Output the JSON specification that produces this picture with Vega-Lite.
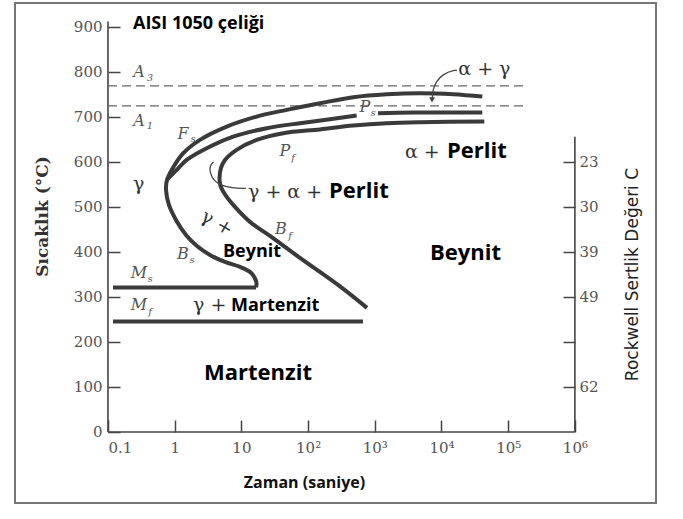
{
  "$schema": "https://vega.github.io/schema/vega-lite/v6.json",
  "width": 641,
  "height": 500,
  "autosize": {"type": "none"},
  "padding": {"left": 15, "top": 3, "right": 27, "bottom": 16},
  "background": "white",
  "config": {"view": {"stroke": "#767676", "strokeWidth": 2}, "axis": {"grid": false}},
  "datasets": {
    "axislines": [
      {"t": 0.1, "t2": 0.1, "T": 0, "T2": 912},
      {"t": 0.1, "t2": 1000000, "T": 0, "T2": 0},
      {"t": 1000000, "t2": 1000000, "T": 0, "T2": 656}
    ],
    "dashes": [
      {"t": 0.1, "t2": 191400, "T": 768.9},
      {"t": 0.1, "t2": 191400, "T": 724.4}
    ],
    "hlines": [
      {"t": 0.1189, "t2": 16.6, "T": 321.1},
      {"t": 0.1189, "t2": 665, "T": 245.6}
    ],
    "curves": [
      {"seg": "a", "i": 1, "t": 16.6, "T": 321.1},
      {"seg": "a", "i": 2, "t": 16.84, "T": 331.1},
      {"seg": "a", "i": 3, "t": 15.72, "T": 343.3},
      {"seg": "a", "i": 4, "t": 13.45, "T": 355.6},
      {"seg": "a", "i": 5, "t": 9.53, "T": 366.7},
      {"seg": "a", "i": 6, "t": 5.68, "T": 377.8},
      {"seg": "a", "i": 7, "t": 3.38, "T": 393.3},
      {"seg": "a", "i": 8, "t": 2.16, "T": 413.3},
      {"seg": "a", "i": 9, "t": 1.477, "T": 437.8},
      {"seg": "a", "i": 10, "t": 1.046, "T": 471.1},
      {"seg": "a", "i": 11, "t": 0.821, "T": 504.4},
      {"seg": "a", "i": 12, "t": 0.741, "T": 537.8},
      {"seg": "a", "i": 13, "t": 0.767, "T": 560},
      {"seg": "a", "i": 14, "t": 0.902, "T": 582.2},
      {"seg": "a", "i": 15, "t": 1.346, "T": 619.3},
      {"seg": "a", "i": 16, "t": 2.395, "T": 648.9},
      {"seg": "a", "i": 17, "t": 6.02, "T": 678.4},
      {"seg": "a", "i": 18, "t": 16.96, "T": 700.7},
      {"seg": "a", "i": 19, "t": 47.8, "T": 715.6},
      {"seg": "a", "i": 20, "t": 150.8, "T": 730.4},
      {"seg": "a", "i": 21, "t": 476, "T": 743.8},
      {"seg": "a", "i": 22, "t": 1508, "T": 750.4},
      {"seg": "a", "i": 23, "t": 4761, "T": 752.7},
      {"seg": "a", "i": 24, "t": 15030, "T": 750.4},
      {"seg": "a", "i": 25, "t": 40900, "T": 745.1},
      {"seg": "b1", "i": 1, "t": 0.767, "T": 560},
      {"seg": "b1", "i": 2, "t": 1.072, "T": 582.2},
      {"seg": "b1", "i": 3, "t": 1.513, "T": 604.4},
      {"seg": "b1", "i": 4, "t": 3.019, "T": 630.4},
      {"seg": "b1", "i": 5, "t": 7.56, "T": 656.2},
      {"seg": "b1", "i": 6, "t": 23.95, "T": 674.9},
      {"seg": "b1", "i": 7, "t": 75.6, "T": 686},
      {"seg": "b1", "i": 8, "t": 212.9, "T": 694.9},
      {"seg": "b1", "i": 9, "t": 535, "T": 703.3},
      {"seg": "b2", "i": 1, "t": 1117, "T": 707.8},
      {"seg": "b2", "i": 2, "t": 4000, "T": 709.5},
      {"seg": "b2", "i": 3, "t": 40900, "T": 710},
      {"seg": "c", "i": 1, "t": 764, "T": 275.6},
      {"seg": "c", "i": 2, "t": 300.9, "T": 323.3},
      {"seg": "c", "i": 3, "t": 75.6, "T": 386.7},
      {"seg": "c", "i": 4, "t": 26.84, "T": 435.6},
      {"seg": "c", "i": 5, "t": 13.45, "T": 466.7},
      {"seg": "c", "i": 6, "t": 8.02, "T": 500},
      {"seg": "c", "i": 7, "t": 5.88, "T": 524.4},
      {"seg": "c", "i": 8, "t": 4.86, "T": 546.7},
      {"seg": "c", "i": 9, "t": 4.7, "T": 564.4},
      {"seg": "c", "i": 10, "t": 4.95, "T": 586.7},
      {"seg": "c", "i": 11, "t": 5.68, "T": 604.4},
      {"seg": "c", "i": 12, "t": 8.5, "T": 626.7},
      {"seg": "c", "i": 13, "t": 16.96, "T": 648.9},
      {"seg": "c", "i": 14, "t": 42.5, "T": 663.8},
      {"seg": "c", "i": 15, "t": 150.8, "T": 672.2},
      {"seg": "c", "i": 16, "t": 476, "T": 680.7},
      {"seg": "c", "i": 17, "t": 1508, "T": 686},
      {"seg": "c", "i": 18, "t": 4761, "T": 688.2},
      {"seg": "c", "i": 19, "t": 43820, "T": 689.6}
    ],
    "leaders": [
      {"seg": "L1", "i": 1, "t": 17000, "T": 803},
      {"seg": "L1", "i": 2, "t": 15030, "T": 802.9},
      {"seg": "L1", "i": 3, "t": 10640, "T": 793.3},
      {"seg": "L1", "i": 4, "t": 8470, "T": 778.4},
      {"seg": "L1", "i": 5, "t": 7535, "T": 760},
      {"seg": "L1", "i": 6, "t": 7278, "T": 742},
      {"seg": "L2", "i": 1, "t": 11.72, "T": 541.1},
      {"seg": "L2", "i": 2, "t": 8.02, "T": 542.2},
      {"seg": "L2", "i": 3, "t": 5.48, "T": 546.7},
      {"seg": "L2", "i": 4, "t": 4.02, "T": 557.8},
      {"seg": "L2", "i": 5, "t": 3.44, "T": 575.6},
      {"seg": "L2", "i": 6, "t": 3.44, "T": 591.1},
      {"seg": "L2", "i": 7, "t": 3.82, "T": 600}
    ],
    "arrows": [{"t": 7220, "T": 737.8}],
    "greek": [
      {"label": "α +", "t": 2836, "T": 608},
      {"label": "γ + α +", "t": 12.56, "T": 520},
      {"label": "γ", "t": 0.2371, "T": 537.8},
      {"label": "γ +", "t": 1.881, "T": 269},
      {"label": "α + γ", "t": 17860, "T": 793.3}
    ],
    "rotated": [{"label": "γ +", "t": 4.31, "T": 464.4}],
    "italic": [
      {"label": "A", "t": 0.2916, "T": 798.9},
      {"label": "A", "t": 0.2916, "T": 691.1},
      {"label": "F", "t": 1.331, "T": 662.2},
      {"label": "P", "t": 45.06, "T": 624.4},
      {"label": "P", "t": 713, "T": 721.1},
      {"label": "B", "t": 1.331, "T": 395.6},
      {"label": "B", "t": 39.25, "T": 451.1},
      {"label": "M", "t": 0.2916, "T": 353.3},
      {"label": "M", "t": 0.2916, "T": 282.2}
    ],
    "subs": [
      {"label": "3", "t": 0.4263, "T": 786.7},
      {"label": "1", "t": 0.4263, "T": 680},
      {"label": "s", "t": 1.881, "T": 651.1},
      {"label": "f", "t": 59.4, "T": 608.9},
      {"label": "s", "t": 940, "T": 708.9},
      {"label": "s", "t": 1.817, "T": 382.2},
      {"label": "f", "t": 53.5, "T": 435.6},
      {"label": "s", "t": 0.4263, "T": 340},
      {"label": "f", "t": 0.4263, "T": 266.7}
    ],
    "boldL": [
      {"label": "Perlit", "t": 12090, "T": 608},
      {"label": "Perlit", "t": 205.8, "T": 520},
      {"label": "Beynit", "t": 6723, "T": 382.2},
      {"label": "Martenzit", "t": 2.75, "T": 115.6}
    ],
    "boldM": [
      {"label": "AISI 1050 çeliği", "t": 0.2371, "T": 895.6},
      {"label": "Beynit", "t": 5.3, "T": 388.9},
      {"label": "Martenzit", "t": 6.98, "T": 269}
    ]
  },
  "encoding": {
    "x": {"field": "t", "type": "quantitative", "scale": {"type": "log", "domain": [0.004036, 16440000], "nice": false}, "axis": null},
    "y": {"field": "T", "type": "quantitative", "scale": {"domain": [-157.8, 953], "nice": false, "zero": false}, "axis": null}
  },
  "resolve": {"axis": {"x": "independent", "y": "independent"}},
  "layer": [
    {
      "data": {"name": "axislines"},
      "mark": {"type": "rule", "color": "#444", "strokeWidth": 1.6},
      "encoding": {
        "x2": {"field": "t2"},
        "y": {
          "field": "T", "type": "quantitative",
          "scale": {"domain": [-157.8, 953], "nice": false, "zero": false},
          "axis": {
            "orient": "right", "offset": -81, "values": [100, 200, 300, 400, 500, 600],
            "domain": false, "tickSize": -12, "tickColor": "#444", "tickWidth": 1.5,
            "labelPadding": 16, "labelFont": "DejaVu Serif", "labelFontSize": 15, "labelColor": "#555",
            "labelExpr": "datum.value == 600 ? '23' : datum.value == 500 ? '30' : datum.value == 400 ? '39' : datum.value == 300 ? '49' : datum.value == 100 ? '62' : ''",
            "title": "Rockwell Sertlik Değeri C", "titleFont": "DejaVu Sans", "titleFontWeight": "normal",
            "titleFontSize": 17, "titleColor": "#222", "titleAngle": 270, "titleX": 57, "titleY": 271,
            "titleBaseline": "middle", "titleAlign": "center"
          }
        },
        "y2": {"field": "T2"}
      }
    },
    {
      "data": {"name": "dashes"},
      "mark": {"type": "rule", "color": "#666", "strokeWidth": 1.4, "strokeDash": [9, 5]},
      "encoding": {"x2": {"field": "t2"}}
    },
    {
      "data": {"name": "hlines"},
      "mark": {"type": "rule", "color": "#3a3a3a", "strokeWidth": 4},
      "encoding": {"x2": {"field": "t2"}}
    },
    {
      "data": {"name": "curves"},
      "mark": {"type": "line", "color": "#3a3a3a", "strokeWidth": 4, "interpolate": "catmull-rom"},
      "encoding": {
        "detail": {"field": "seg"},
        "order": {"field": "i", "type": "quantitative"},
        "x": {
          "field": "t", "type": "quantitative",
          "scale": {"type": "log", "domain": [0.004036, 16440000], "nice": false},
          "axis": {
            "orient": "bottom", "offset": -71, "values": [0.1, 1, 10, 100, 1000, 10000, 100000, 1000000],
            "domain": false, "ticks": true, "tickSize": -12, "tickColor": "#444", "tickWidth": 1.5,
            "labelPadding": 20, "labelFont": "DejaVu Serif", "labelFontSize": 15, "labelColor": "#555",
            "labelFlush": false, "labelOverlap": false,
            "labelAlign": {"condition": {"test": "datum.value < 0.5", "value": "left"}, "value": "center"},
            "labelExpr": "datum.value < 0.5 ? '0.1' : datum.value < 5 ? '1' : datum.value < 50 ? '10' : '10' + ['','','²','³','⁴','⁵','⁶'][round(log(datum.value)/LN10)]",
            "title": "Zaman (saniye)", "titleFont": "Open Sans", "titleFontWeight": "bold", "titleFontSize": 16,
            "titleColor": "#111", "titleX": 289, "titleY": 50, "titleBaseline": "middle", "titleAlign": "center"
          }
        },
        "y": {
          "field": "T", "type": "quantitative",
          "scale": {"domain": [-157.8, 953], "nice": false, "zero": false},
          "axis": {
            "orient": "left", "offset": -93, "values": [0, 100, 200, 300, 400, 500, 600, 700, 800, 900],
            "domain": false, "tickSize": -12, "tickColor": "#444", "tickWidth": 1.5,
            "labelPadding": 18, "labelFont": "DejaVu Serif", "labelFontSize": 15, "labelColor": "#555",
            "title": "Sıcaklık (°C)", "titleFont": "DejaVu Serif", "titleFontWeight": "bold", "titleFontSize": 17,
            "titleColor": "#333", "titleAngle": 270, "titleX": -66, "titleY": 213,
            "titleBaseline": "middle", "titleAlign": "center"
          }
        }
      }
    },
    {
      "data": {"name": "leaders"},
      "mark": {"type": "line", "color": "#444", "strokeWidth": 1.3, "interpolate": "catmull-rom"},
      "encoding": {"detail": {"field": "seg"}, "order": {"field": "i", "type": "quantitative"}}
    },
    {
      "data": {"name": "arrows"},
      "mark": {"type": "point", "shape": "triangle-down", "filled": true, "color": "#444", "size": 35, "opacity": 1}
    },
    {
      "data": {"name": "greek"},
      "mark": {"type": "text", "font": "DejaVu Serif", "fontSize": 19, "color": "#333", "align": "left", "baseline": "alphabetic"},
      "encoding": {"text": {"field": "label"}}
    },
    {
      "data": {"name": "rotated"},
      "mark": {"type": "text", "font": "DejaVu Serif", "fontSize": 19, "color": "#333", "align": "center", "baseline": "middle", "angle": 30},
      "encoding": {"text": {"field": "label"}}
    },
    {
      "data": {"name": "italic"},
      "mark": {"type": "text", "font": "DejaVu Serif", "fontStyle": "italic", "fontSize": 16, "color": "#555", "align": "center", "baseline": "middle"},
      "encoding": {"text": {"field": "label"}}
    },
    {
      "data": {"name": "subs"},
      "mark": {"type": "text", "font": "DejaVu Serif", "fontStyle": "italic", "fontSize": 10, "color": "#555", "align": "center", "baseline": "middle"},
      "encoding": {"text": {"field": "label"}}
    },
    {
      "data": {"name": "boldL"},
      "mark": {"type": "text", "font": "Open Sans", "fontWeight": "bold", "fontSize": 22, "color": "#000", "align": "left", "baseline": "alphabetic"},
      "encoding": {"text": {"field": "label"}}
    },
    {
      "data": {"name": "boldM"},
      "mark": {"type": "text", "font": "Open Sans", "fontWeight": "bold", "fontSize": 18, "color": "#000", "align": "left", "baseline": "alphabetic"},
      "encoding": {"text": {"field": "label"}}
    }
  ]
}
